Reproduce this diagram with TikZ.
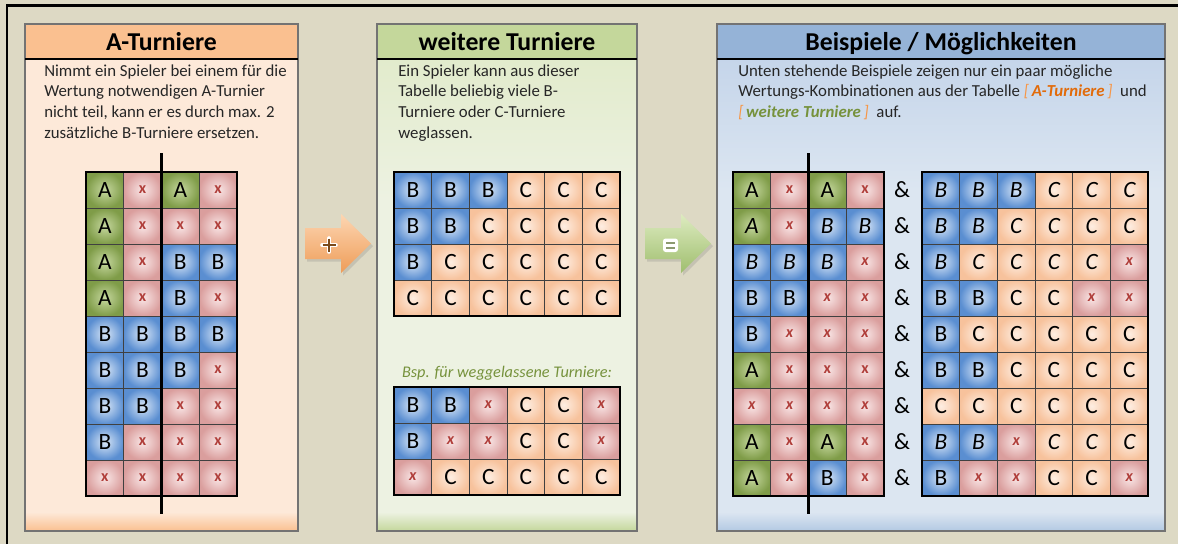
\documentclass[tikz,border=0pt]{standalone}
\usepackage{fontspec}
\setmainfont{Carlito}
\usetikzlibrary{shadows}
\definecolor{bgtan}{HTML}{DDD9C4}
\definecolor{pAhead}{HTML}{FAC090}
\definecolor{pAbody}{HTML}{FDE9D9}
\definecolor{pBhead}{HTML}{C4D79B}
\definecolor{pBbody}{HTML}{EDF2E2}
\definecolor{pBtop}{HTML}{E2EBCC}
\definecolor{pChead}{HTML}{95B3D7}
\definecolor{pCbody}{HTML}{DCE6F1}
\definecolor{pCtop}{HTML}{C5D5EA}
\definecolor{pCbot}{HTML}{B3C9E3}
\definecolor{cAin}{HTML}{C6D89F}
\definecolor{cAout}{HTML}{7F9C48}
\definecolor{cBin}{HTML}{D8E6F7}
\definecolor{cBout}{HTML}{5A8ED1}
\definecolor{cCin}{HTML}{FEEEE2}
\definecolor{cCout}{HTML}{F7C29C}
\definecolor{cXin}{HTML}{F9E6E6}
\definecolor{cXout}{HTML}{DA9E9D}
\definecolor{xred}{HTML}{B03E3A}
\definecolor{txt}{HTML}{262626}
\definecolor{capgreen}{HTML}{76923C}
\definecolor{orgtxt}{HTML}{E26B0A}
\definecolor{orgbrk}{HTML}{F79646}
\definecolor{arrOtop}{HTML}{FDD6B2}
\definecolor{arrObot}{HTML}{EE9C58}
\definecolor{arrGtop}{HTML}{DDEBC0}
\definecolor{arrGbot}{HTML}{9FBE6E}
\definecolor{plusbrown}{HTML}{7A4A1A}
\definecolor{eqline}{HTML}{8C9A70}
\newcommand\mygrid[4]{%
  \foreach \row [count=\r] in {#4} {
    \foreach \t [count=\c] in \row {
      \node[cell, t\t, at={({#2+(\c-0.5)*37.7}, {#3+(\r-0.5)*36})}, name=#1-\r-\c];
    }
  }
}
\begin{document}
\begin{tikzpicture}[x=0.75pt,y=-0.75pt,
  cell/.style={draw=black!75, line width=0.6pt, minimum width=28.3pt, minimum height=27pt,
    inner sep=0pt, outer sep=0pt, font=\fontsize{17.5}{17.5}\selectfont, anchor=center},
  tA/.style={inner color=cAin, outer color=cAout, node contents={A}},
  tAi/.style={inner color=cAin, outer color=cAout, node contents={\itshape A}},
  tB/.style={inner color=cBin, outer color=cBout, node contents={B}},
  tBi/.style={inner color=cBin, outer color=cBout, node contents={\itshape B}},
  tC/.style={inner color=cCin, outer color=cCout, node contents={C}},
  tCi/.style={inner color=cCin, outer color=cCout, node contents={\itshape C}},
  tX/.style={inner color=cXin, outer color=cXout, node contents={\fontsize{12}{12}\selectfont\bfseries\color{xred}x}},
  tXi/.style={inner color=cXin, outer color=cXout, node contents={\fontsize{12}{12}\selectfont\bfseries\itshape\color{xred}x}},
  head/.style={anchor=base, font=\fontsize{19.3}{21}\selectfont\bfseries, text=black, inner sep=0pt},
  body/.style={anchor=base west, font=\fontsize{12.6}{15}\selectfont, text=txt, inner sep=0pt},
  amp/.style={font=\fontsize{17.5}{17.5}\selectfont, inner sep=0pt},
  gridbox/.style={line width=1.6pt, draw=black},
  sep/.style={line width=2pt, draw=black},
  panelframe/.style={draw=black!55, line width=0.8pt},
  headline/.style={draw=black, line width=0.8pt}
]
\useasboundingbox (0,0) rectangle (1178,544);
\fill[bgtan] (0,0) rectangle (1178,544);
\draw[line width=2pt] (7,544) -- (7,5.5) -- (1178,5.5);

% panel 1
\fill[pAbody] (25,59) rectangle (298,531);
\shade[top color=pAbody, bottom color=pAhead] (25,512) rectangle (298,531);
\fill[pAhead] (25,24) rectangle (298,59);
\draw[panelframe] (25,24) rectangle (298,531);
\draw[headline] (25,59) -- (298,59);
\node[head] (h1) at (161.5,50) {A-Turniere};
\node[body] (t11) at (44,76) {Nimmt ein Spieler bei einem für die};
\node[body] (t12) at (44,96.7) {Wertung notwendigen A-Turnier};
\node[body] (t13) at (44,117.4) {nicht teil, kann er es durch max. 2};
\node[body] (t14) at (44,138.1) {zusätzliche B-Turniere ersetzen.};

% panel 2
\fill[pBbody] (377,59) rectangle (637,531);
\shade[top color=pBtop, bottom color=pBbody] (377,59) rectangle (637,200);
\shade[top color=pBbody, bottom color=pBhead] (377,512) rectangle (637,531);
\fill[pBhead] (377,24) rectangle (637,59);
\draw[panelframe] (377,24) rectangle (637,531);
\draw[headline] (377,59) -- (637,59);
\node[head] (h2) at (507,50) {weitere Turniere};
\node[body] (t21) at (398,76) {Ein Spieler kann aus dieser};
\node[body] (t22) at (398,96.7) {Tabelle beliebig viele B-};
\node[body] (t23) at (398,117.4) {Turniere oder C-Turniere};
\node[body] (t24) at (398,138.1) {weglassen.};
\node[anchor=base, font=\fontsize{12.2}{14}\selectfont\itshape, text=capgreen, inner sep=0pt] (cap) at (507,377.5) {Bsp. für weggelassene Turniere:};

% panel 3
\fill[pCbody] (717,59) rectangle (1165,531);
\shade[top color=pCtop, bottom color=pCbody] (717,59) rectangle (1165,190);
\shade[top color=pCbody, bottom color=pCbot] (717,512) rectangle (1165,531);
\fill[pChead] (717,24) rectangle (1165,59);
\draw[panelframe] (717,24) rectangle (1165,531);
\draw[headline] (717,59) -- (1165,59);
\node[head] (h3) at (941,50) {Beispiele / Möglichkeiten};
\node[body] (t31) at (738,76) {Unten stehende Beispiele zeigen nur ein paar mögliche};
\node[body] (t32) at (738,96.7) {Wertungs-Kombinationen aus der Tabelle \textit{\textcolor{orgbrk}{[\,}\textbf{\textcolor{orgtxt}{A-Turniere}}\textcolor{orgbrk}{\,]}}\ \ und};
\node[body] (t33) at (738,117.4) {\textit{\textcolor{orgbrk}{[\,}\textbf{\textcolor{capgreen}{weitere Turniere}}\textcolor{orgbrk}{\,]}}\ \ auf.};

% grids
\mygrid{ga}{86}{172}{{A,X,A,X},{A,X,X,X},{A,X,B,B},{A,X,B,X},{B,B,B,B},{B,B,B,X},{B,B,X,X},{B,X,X,X},{X,X,X,X}}
\draw[gridbox] (ga-1-1.north west) rectangle (ga-9-4.south east);
\draw[sep] (161.4,153) -- (161.4,514);

\mygrid{gb}{394}{172}{{B,B,B,C,C,C},{B,B,C,C,C,C},{B,C,C,C,C,C},{C,C,C,C,C,C}}
\draw[gridbox] (gb-1-1.north west) rectangle (gb-4-6.south east);

\mygrid{gc}{394}{387}{{B,B,Xi,C,C,Xi},{B,Xi,Xi,C,C,Xi},{Xi,C,C,C,C,C}}
\draw[gridbox] (gc-1-1.north west) rectangle (gc-3-6.south east);

\mygrid{gd}{733}{172}{{A,X,A,X},{Ai,Xi,Bi,Bi},{Bi,Bi,Bi,Xi},{B,B,Xi,Xi},{B,Xi,Xi,Xi},{A,X,X,X},{Xi,Xi,Xi,Xi},{A,X,A,X},{A,X,B,X}}
\draw[gridbox] (gd-1-1.north west) rectangle (gd-9-4.south east);
\draw[sep] (808.4,153) -- (808.4,514);

\mygrid{ge}{922}{172}{{Bi,Bi,Bi,Ci,Ci,Ci},{Bi,Bi,Ci,Ci,Ci,Ci},{Bi,Ci,Ci,Ci,Ci,Xi},{B,B,C,C,Xi,Xi},{B,C,C,C,C,C},{B,B,C,C,C,C},{C,C,C,C,C,C},{Bi,Bi,Xi,Ci,Ci,Ci},{B,Xi,Xi,C,C,Xi}}
\draw[gridbox] (ge-1-1.north west) rectangle (ge-9-6.south east);

\foreach \r in {1,...,9} {
  \node[amp] (amp\r) at (902,{172+(\r-0.5)*36}) {\&};
}

% arrows
\shade[top color=arrOtop, bottom color=arrObot, drop shadow={opacity=0.25, shadow xshift=1.5pt, shadow yshift=-2pt}]
  (305,228) -- (341,228) -- (341,214) -- (371,243.5) -- (341,273) -- (341,259) -- (305,259) -- cycle;
\draw[white, line width=3.5pt, line cap=round] (322.5,245) -- (335.5,245) (329,238.5) -- (329,251.5);
\draw[plusbrown, line width=1.5pt] (322.5,245) -- (335.5,245) (329,238.5) -- (329,251.5);

\shade[top color=arrGtop, bottom color=arrGbot, drop shadow={opacity=0.25, shadow xshift=1.5pt, shadow yshift=-2pt}]
  (645,228) -- (681,228) -- (681,214) -- (711,243.5) -- (681,273) -- (681,259) -- (645,259) -- cycle;
\fill[white, rounded corners=2pt] (663,238.5) rectangle (678,252);
\draw[eqline, line width=1.6pt] (666,243) -- (675,243) (666,247.8) -- (675,247.8);
\end{tikzpicture}
\end{document}
